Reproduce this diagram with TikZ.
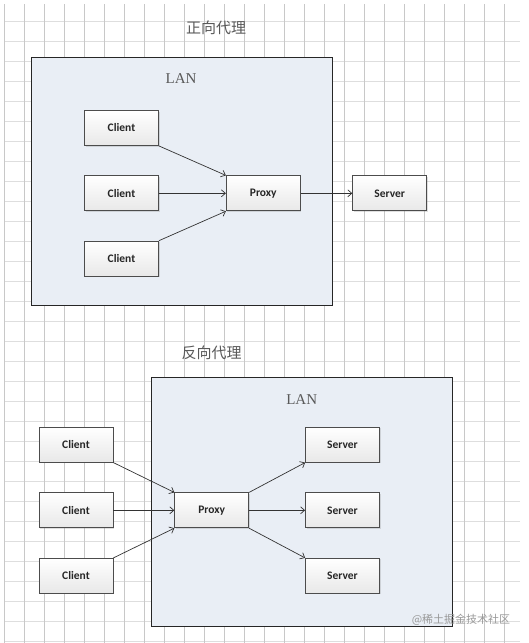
\documentclass[tikz,border=0pt]{standalone}
\usepackage{fontspec}
\setmainfont{Liberation Serif}
\setsansfont{Carlito}
\newfontfamily\cjk{Noto Sans CJK SC}
\usepackage{xcolor}
\usetikzlibrary{arrows.meta}
\usetikzlibrary{shadows}
\definecolor{lanblue}{HTML}{E9EEF5}
\definecolor{gridgray}{HTML}{C8C8C8}
\definecolor{gridlight}{HTML}{DEDEDE}

\begin{document}
\begin{tikzpicture}[x=1pt,y=-1pt,
  box/.style={draw=gray!60!black,line width=0.8pt,top color=white,bottom color=gray!18,
    minimum width=74pt,minimum height=35pt,inner sep=0pt,
    font=\sffamily\bfseries\fontsize{11.5}{13}\selectfont,text=black!85,
    drop shadow={shadow xshift=1pt,shadow yshift=-1pt,opacity=0.25}},
  lan/.style={draw=black!85,line width=1pt,fill=lanblue},
  link/.style={draw=gray!40!black,line width=0.7pt,-{Straight Barb[length=4pt,width=7pt]}},
  heading/.style={font=\cjk\fontsize{15}{18}\selectfont,text=black!65},
  lanlabel/.style={font=\fontsize{15}{18}\selectfont,text=black!65}]
\useasboundingbox (0,0) rectangle (528,643);
\fill[white] (0,0) rectangle (528,643);
% grid
\foreach \j in {0,...,31} \draw[gridlight,line width=0.7pt] (4,21+20*\j) -- (520,21+20*\j);
\foreach \i in {0,...,25} \draw[gridgray,line width=0.7pt] (4+20*\i,4) -- (4+20*\i,643);

% forward proxy
\node[heading] (fwdtitle) at (216,28) {正向代理};
\draw[lan] (31.7,57.3) rectangle (332.3,305);
\node[lanlabel] (fwdlan) at (181,79) {LAN};
\node[box] (fc1) at (121.5,128) {Client};
\node[box] (fc2) at (121.5,193.3) {Client};
\node[box] (fc3) at (121.5,258.6) {Client};
\node[box] (fproxy) at (263.3,193.3) {Proxy};
\node[box] (fserver) at (389.7,193.3) {Server};
\draw[link] (fc1.south east) -- (fproxy.north west);
\draw[link] (fc2) -- (fproxy);
\draw[link] (fc3.north east) -- (fproxy.south west);
\draw[link] (fproxy) -- (fserver);

% reverse proxy
\node[heading] (revtitle) at (211.7,353.3) {反向代理};
\draw[lan] (151.7,377.7) rectangle (452.3,626);
\node[lanlabel] (revlan) at (301.7,400) {LAN};
\node[box] (rc1) at (76,444.7) {Client};
\node[box] (rc2) at (76,510.3) {Client};
\node[box] (rc3) at (76,575.8) {Client};
\node[box] (rproxy) at (211.7,510.3) {Proxy};
\node[box] (rs1) at (342.5,444.7) {Server};
\node[box] (rs2) at (342.5,510.3) {Server};
\node[box] (rs3) at (342.5,575.8) {Server};
\draw[link] (rc1.south east) -- (rproxy.north west);
\draw[link] (rc2) -- (rproxy);
\draw[link] (rc3.north east) -- (rproxy.south west);
\draw[link] (rproxy.north east) -- (rs1.south west);
\draw[link] (rproxy) -- (rs2);
\draw[link] (rproxy.south east) -- (rs3.north west);

\node[font=\cjk\fontsize{11}{13}\selectfont,text=black!40] (mark) at (461,620) {@稀土掘金技术社区};
\end{tikzpicture}
\end{document}
